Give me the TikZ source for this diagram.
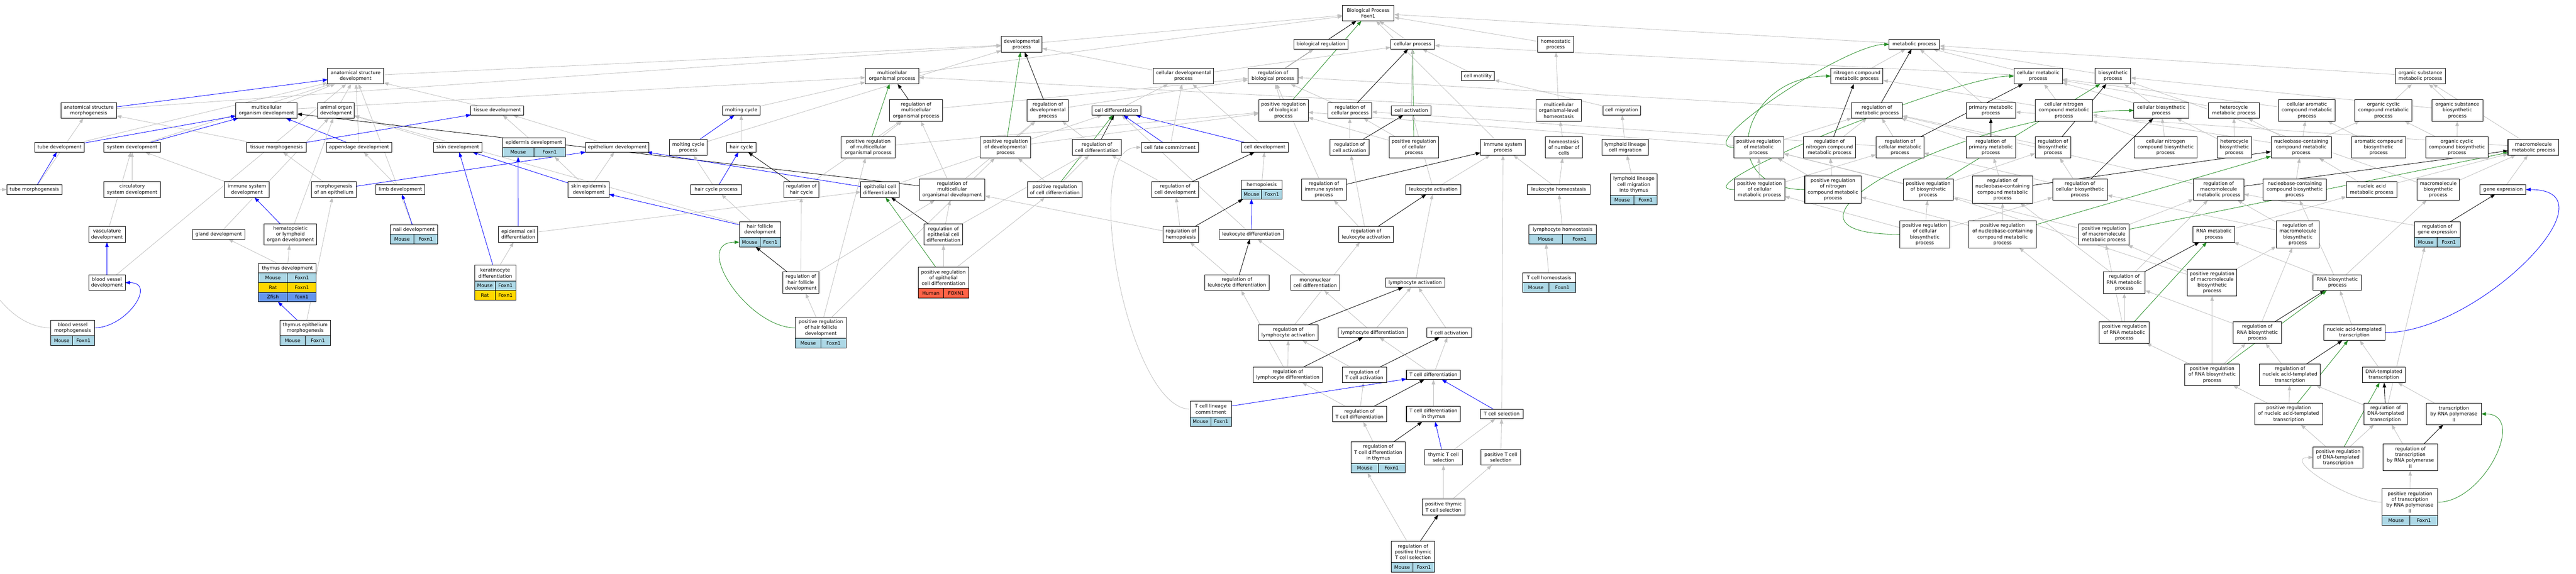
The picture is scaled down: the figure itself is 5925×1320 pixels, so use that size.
\documentclass[tikz,border=0pt]{standalone}
\usepackage{fontspec}
\setmainfont{DejaVu Sans}
\usepackage{tikz}
\usetikzlibrary{positioning, arrows.meta}
\definecolor{edgegray}{RGB}{192,192,192}
\definecolor{mousecol}{RGB}{173,216,230}
\definecolor{ratcol}{RGB}{255,215,0}
\definecolor{fishcol}{RGB}{100,149,237}
\definecolor{humancol}{RGB}{255,99,71}
\definecolor{posgreen}{RGB}{34,139,34}
\pgfdeclarelayer{bg}
\pgfsetlayers{bg,main}
\begin{document}
\begin{tikzpicture}[x=1pt, y=-1pt,
  term/.style={draw, line width=1.2pt, fill=white, inner sep=0pt, outer sep=0pt, align=center, font=\fontsize{11}{13.3}\selectfont},
  l1/.style={minimum height=22}, l2/.style={minimum height=36}, l3/.style={minimum height=49}, l4/.style={minimum height=62},
  cell/.style={draw, line width=1.2pt, inner sep=0pt, outer sep=0pt, minimum height=22, font=\fontsize{11}{13.3}\selectfont},
  mouse/.style={cell, fill=mousecol}, rat/.style={cell, fill=ratcol}, fish/.style={cell, fill=fishcol}, human/.style={cell, fill=humancol},
  isa/.style={draw=edgegray, line width=1pt, -{Triangle[length=11pt, width=8pt]}},
  partof/.style={isa, draw=blue},
  reg/.style={isa, draw=black},
  posreg/.style={isa, draw=posgreen}]
\useasboundingbox (0,0) rectangle (5925,1320);
\node[term, l2, minimum width=119] (bp) at (3147,30) {Biological Process\\Foxn1};
\node[term, l2, minimum width=94] (devproc) at (2350,102) {developmental\\process};
\node[term, l1, minimum width=124] (bioreg) at (3038,102) {biological regulation};
\node[term, l1, minimum width=101] (cellproc) at (3249,102) {cellular process};
\node[term, l2, minimum width=82] (homeo) at (3578,102) {homeostatic\\process};
\node[term, l1, minimum width=116] (metab) at (4403,102) {metabolic process};
\node[term, l2, minimum width=129] (asdev) at (818,175) {anatomical structure\\development};
\node[term, l2, minimum width=123] (mcop) at (2052,175) {multicellular\\organismal process};
\node[term, l2, minimum width=139] (celldevproc) at (2722,175) {cellular developmental\\process};
\node[term, l2, minimum width=115] (regbp) at (2928,175) {regulation of\\biological process};
\node[term, l1, minimum width=76] (cellmot) at (3399,175) {cell motility};
\node[term, l2, minimum width=120] (nitro) at (4271,175) {nitrogen compound\\metabolic process};
\node[term, l2, minimum width=111] (cellmet) at (4688,175) {cellular metabolic\\process};
\node[term, l2, minimum width=82] (biosyn) at (4860,175) {biosynthetic\\process};
\node[term, l2, minimum width=116] (orgsub) at (5567,175) {organic substance\\metabolic process};
\node[term, l2, minimum width=128] (asmorph) at (204,254) {anatomical structure\\morphogenesis};
\node[term, l2, minimum width=141] (mcod) at (613,254) {multicellular\\organism development};
\node[term, l2, minimum width=84] (aod) at (773,254) {animal organ\\development};
\node[term, l1, minimum width=122] (tisdev) at (1144,254) {tissue development};
\node[term, l1, minimum width=86] (molt) at (1705,254) {molting cycle};
\node[term, l3, minimum width=123] (regmcop) at (2107,254) {regulation of\\multicellular\\organismal process};
\node[term, l3, minimum width=95] (regdev) at (2410,254) {regulation of\\developmental\\process};
\node[term, l1, minimum width=112] (celldiff) at (2568,254) {cell differentiation};
\node[term, l3, minimum width=114] (posregbp) at (2952,254) {positive regulation\\of biological\\process};
\node[term, l2, minimum width=101] (regcp) at (3105,254) {regulation of\\cellular process};
\node[term, l1, minimum width=91] (cellact) at (3246,254) {cell activation};
\node[term, l3, minimum width=104] (mcoh) at (3585,254) {multicellular\\organismal-level\\homeostasis};
\node[term, l1, minimum width=87] (cellmig) at (3730,254) {cell migration};
\node[term, l2, minimum width=117] (regmet) at (4317,254) {regulation of\\metabolic process};
\node[term, l2, minimum width=114] (primet) at (4579,254) {primary metabolic\\process};
\node[term, l3, minimum width=131] (cnitro) at (4747,254) {cellular nitrogen\\compound metabolic\\process};
\node[term, l2, minimum width=126] (cellbio) at (4971,254) {cellular biosynthetic\\process};
\node[term, l2, minimum width=117] (hetmet) at (5138,254) {heterocycle\\metabolic process};
\node[term, l3, minimum width=131] (carom) at (5306,254) {cellular aromatic\\compound metabolic\\process};
\node[term, l3, minimum width=131] (orgcyc) at (5482,254) {organic cyclic\\compound metabolic\\process};
\node[term, l3, minimum width=117] (orgsubbio) at (5652,254) {organic substance\\biosynthetic\\process};
\node[term, l1, minimum width=113] (tubedev) at (137,339) {tube development};
\node[term, l1, minimum width=130] (sysdev) at (304,339) {system development};
\node[term, l1, minimum width=137] (tismorph) at (636,339) {tissue morphogenesis};
\node[term, l1, minimum width=151] (appdev) at (826,339) {appendage development};
\node[term, l1, minimum width=112] (skindev) at (1053,339) {skin development};
\node[term, l1, minimum width=145] (epiddev) at (1228,328) {epidermis development};
\node[mouse, minimum width=72.5, below right=0pt and 0pt of epiddev.south west] (epiddev-a) {Mouse};
\node[mouse, minimum width=72.5, right=0pt of epiddev-a] (epiddev-b) {Foxn1};
\node[term, l1, minimum width=146] (epithdev) at (1420,339) {epithelium development};
\node[term, l2, minimum width=87] (moltproc) at (1583,339) {molting cycle\\process};
\node[term, l1, minimum width=67] (hair) at (1705,339) {hair cycle};
\node[term, l3, minimum width=124] (posregmcop) at (1997,339) {positive regulation\\of multicellular\\organismal process};
\node[term, l3, minimum width=116] (posregdev) at (2313,339) {positive regulation\\of developmental\\process};
\node[term, l2, minimum width=112] (regcelldiff) at (2523,339) {regulation of\\cell differentiation};
\node[term, l1, minimum width=132] (cellfate) at (2691,339) {cell fate commitment};
\node[term, l1, minimum width=108] (celldev) at (2909,339) {cell development};
\node[term, l2, minimum width=90] (regca) at (3104,339) {regulation of\\cell activation};
\node[term, l3, minimum width=114] (posregcp) at (3252,339) {positive regulation\\of cellular\\process};
\node[term, l2, minimum width=103] (isp) at (3457,339) {immune system\\process};
\node[term, l3, minimum width=85] (homnum) at (3597,339) {homeostasis\\of number of\\cells};
\node[term, l2, minimum width=107] (llcm) at (3738,339) {lymphoid lineage\\cell migration};
\node[term, l3, minimum width=115] (posregmet) at (4045,339) {positive regulation\\of metabolic\\process};
\node[term, l3, minimum width=120] (regnitro) at (4208,339) {regulation of\\nitrogen compound\\metabolic process};
\node[term, l3, minimum width=110] (regcellmet) at (4370,339) {regulation of\\cellular metabolic\\process};
\node[term, l3, minimum width=114] (regprim) at (4579,339) {regulation of\\primary metabolic\\process};
\node[term, l3, minimum width=82] (regbio) at (4722,339) {regulation of\\biosynthetic\\process};
\node[term, l3, minimum width=144] (cnitrobio) at (4981,339) {cellular nitrogen\\compound biosynthetic\\process};
\node[term, l3, minimum width=80] (hetbio) at (5139,339) {heterocycle\\biosynthetic\\process};
\node[term, l3, minimum width=139] (nucmet) at (5293,339) {nucleobase-containing\\compound metabolic\\process};
\node[term, l3, minimum width=124] (arombio) at (5471,339) {aromatic compound\\biosynthetic\\process};
\node[term, l3, minimum width=144] (orgcycbio) at (5651,339) {organic cyclic\\compound biosynthetic\\process};
\node[term, l2, minimum width=117] (macmet) at (5827,339) {macromolecule\\metabolic process};
\node[term, l1, minimum width=127] (tubemorph) at (79,436) {tube morphogenesis};
\node[term, l2, minimum width=130] (circ) at (304,436) {circulatory\\system development};
\node[term, l2, minimum width=103] (isdev) at (568,436) {immune system\\development};
\node[term, l2, minimum width=103] (morphepi) at (768,436) {morphogenesis\\of an epithelium};
\node[term, l1, minimum width=112] (limb) at (921,436) {limb development};
\node[term, l2, minimum width=94] (skinepi) at (1354,436) {skin epidermis\\development};
\node[term, l1, minimum width=117] (hcp) at (1647,436) {hair cycle process};
\node[term, l2, minimum width=81] (reghc) at (1843,436) {regulation of\\hair cycle};
\node[term, l2, minimum width=88] (epicd) at (2024,436) {epithelial cell\\differentiation};
\node[term, l3, minimum width=151] (regmcod) at (2190,436) {regulation of\\multicellular\\organismal development};
\node[term, l2, minimum width=126] (posregcd) at (2426,436) {positive regulation\\of cell differentiation};
\node[term, l2, minimum width=108] (regcd2) at (2703,436) {regulation of\\cell development};
\node[term, l1, minimum width=94] (hemo) at (2902,425) {hemopoiesis};
\node[mouse, minimum width=47, below right=0pt and 0pt of hemo.south west] (hemo-a) {Mouse};
\node[mouse, minimum width=47, right=0pt of hemo-a] (hemo-b) {Foxn1};
\node[term, l3, minimum width=103] (regisp) at (3045,436) {regulation of\\immune system\\process};
\node[term, l1, minimum width=127] (leuact) at (3297,436) {leukocyte activation};
\node[term, l1, minimum width=144] (leuhom) at (3585,436) {leukocyte homeostasis};
\node[term, l3, minimum width=108] (llcmt) at (3758,425) {lymphoid lineage\\cell migration\\into thymus};
\node[mouse, minimum width=54, below right=0pt and 0pt of llcmt.south west] (llcmt-a) {Mouse};
\node[mouse, minimum width=54, right=0pt of llcmt-a] (llcmt-b) {Foxn1};
\node[term, l3, minimum width=116] (posregcm) at (4047,436) {positive regulation\\of cellular\\metabolic process};
\node[term, l4, minimum width=130] (posregnitro) at (4216,436) {positive regulation\\of nitrogen\\compound metabolic\\process};
\node[term, l3, minimum width=115] (posregbio) at (4435,436) {positive regulation\\of biosynthetic\\process};
\node[term, l4, minimum width=139] (regnuc) at (4606,436) {regulation of\\nucleobase-containing\\compound metabolic\\process};
\node[term, l3, minimum width=126] (regcb) at (4784,436) {regulation of\\cellular biosynthetic\\process};
\node[term, l3, minimum width=116] (regmac) at (5103,436) {regulation of\\macromolecule\\metabolic process};
\node[term, l3, minimum width=145] (nucbio) at (5278,436) {nucleobase-containing\\compound biosynthetic\\process};
\node[term, l2, minimum width=116] (nucacid) at (5455,436) {nucleic acid\\metabolic process};
\node[term, l3, minimum width=98] (macbio) at (5608,436) {macromolecule\\biosynthetic\\process};
\node[term, l1, minimum width=105] (geneexp) at (5757,436) {gene expression};
\node[term, l2, minimum width=84] (vasc) at (246,539) {vasculature\\development};
\node[term, l1, minimum width=120] (gland) at (503,539) {gland development};
\node[term, l3, minimum width=121] (hemorgan) at (668,539) {hematopoietic\\or lymphoid\\organ development};
\node[term, l1, minimum width=109] (naildev) at (952,528) {nail development};
\node[mouse, minimum width=54.5, below right=0pt and 0pt of naildev.south west] (naildev-a) {Mouse};
\node[mouse, minimum width=54.5, right=0pt of naildev-a] (naildev-b) {Foxn1};
\node[term, l2, minimum width=90] (epidcd) at (1192,539) {epidermal cell\\differentiation};
\node[term, l2, minimum width=95] (hfd) at (1748,528) {hair follicle\\development};
\node[mouse, minimum width=47.5, below right=0pt and 0pt of hfd.south west] (hfd-a) {Mouse};
\node[mouse, minimum width=47.5, right=0pt of hfd-a] (hfd-b) {Foxn1};
\node[term, l3, minimum width=89] (regepicd) at (2170,539) {regulation of\\epithelial cell\\differentiation};
\node[term, l2, minimum width=82] (reghemo) at (2716,539) {regulation of\\hemopoiesis};
\node[term, l1, minimum width=148] (leudiff) at (2878,539) {leukocyte differentiation};
\node[term, l2, minimum width=126] (regla) at (3142,539) {regulation of\\leukocyte activation};
\node[term, l1, minimum width=156] (lymhom) at (3594,528) {lymphocyte homeostasis};
\node[mouse, minimum width=78, below right=0pt and 0pt of lymhom.south west] (lymhom-a) {Mouse};
\node[mouse, minimum width=78, right=0pt of lymhom-a] (lymhom-b) {Foxn1};
\node[term, l4, minimum width=115] (posregcbio) at (4427,539) {positive regulation\\of cellular\\biosynthetic\\process};
\node[term, l4, minimum width=155] (posregnuc) at (4606,539) {positive regulation\\of nucleobase-containing\\compound metabolic\\process};
\node[term, l3, minimum width=116] (posregmac) at (4839,539) {positive regulation\\of macromolecule\\metabolic process};
\node[term, l2, minimum width=96] (rnamet) at (5092,539) {RNA metabolic\\process};
\node[term, l4, minimum width=99] (regmacbio) at (5285,539) {regulation of\\macromolecule\\biosynthetic\\process};
\node[term, l2, minimum width=106] (reggene) at (5606,528) {regulation of\\gene expression};
\node[mouse, minimum width=53, below right=0pt and 0pt of reggene.south west] (reggene-a) {Mouse};
\node[mouse, minimum width=53, right=0pt of reggene-a] (reggene-b) {Foxn1};
\node[term, l2, minimum width=84] (bvdev) at (246,650) {blood vessel\\development};
\node[term, l1, minimum width=133] (thydev) at (661,617) {thymus development};
\node[mouse, minimum width=66.5, below right=0pt and 0pt of thydev.south west] (thydev-a) {Mouse};
\node[mouse, minimum width=66.5, right=0pt of thydev-a] (thydev-b) {Foxn1};
\node[rat, minimum width=66.5, below=0pt of thydev-a] (thydev-c) {Rat};
\node[rat, minimum width=66.5, right=0pt of thydev-c] (thydev-d) {Foxn1};
\node[fish, minimum width=66.5, below=0pt of thydev-c] (thydev-e) {Zfish};
\node[fish, minimum width=66.5, right=0pt of thydev-e] (thydev-f) {foxn1};
\node[term, l2, minimum width=95] (kerat) at (1139,628) {keratinocyte\\differentiation};
\node[mouse, minimum width=47.5, below right=0pt and 0pt of kerat.south west] (kerat-a) {Mouse};
\node[mouse, minimum width=47.5, right=0pt of kerat-a] (kerat-b) {Foxn1};
\node[rat, minimum width=47.5, below=0pt of kerat-a] (kerat-c) {Rat};
\node[rat, minimum width=47.5, right=0pt of kerat-c] (kerat-d) {Foxn1};
\node[term, l3, minimum width=84] (reghfd) at (1842,650) {regulation of\\hair follicle\\development};
\node[term, l3, minimum width=116] (posregepi) at (2170,639) {positive regulation\\of epithelial\\cell differentiation};
\node[human, minimum width=58, below right=0pt and 0pt of posregepi.south west] (posregepi-a) {Human};
\node[human, minimum width=58, right=0pt of posregepi-a] (posregepi-b) {FOXN1};
\node[term, l2, minimum width=149] (regleudiff) at (2845,650) {regulation of\\leukocyte differentiation};
\node[term, l2, minimum width=112] (mono) at (3025,650) {mononuclear\\cell differentiation};
\node[term, l1, minimum width=137] (lymact) at (3255,650) {lymphocyte activation};
\node[term, l1, minimum width=122] (tcellhom) at (3563,639) {T cell homeostasis};
\node[mouse, minimum width=61, below right=0pt and 0pt of tcellhom.south west] (tcellhom-a) {Mouse};
\node[mouse, minimum width=61, right=0pt of tcellhom-a] (tcellhom-b) {Foxn1};
\node[term, l3, minimum width=96] (regrna) at (4886,650) {regulation of\\RNA metabolic\\process};
\node[term, l4, minimum width=114] (posregmacbio) at (5088,650) {positive regulation\\of macromolecule\\biosynthetic\\process};
\node[term, l2, minimum width=111] (rnabio) at (5376,650) {RNA biosynthetic\\process};
\node[term, l2, minimum width=100] (bvmorph) at (167,754) {blood vessel\\morphogenesis};
\node[mouse, minimum width=50, below right=0pt and 0pt of bvmorph.south west] (bvmorph-a) {Mouse};
\node[mouse, minimum width=50, right=0pt of bvmorph-a] (bvmorph-b) {Foxn1};
\node[term, l2, minimum width=116] (thyepi) at (702,754) {thymus epithelium\\morphogenesis};
\node[mouse, minimum width=58, below right=0pt and 0pt of thyepi.south west] (thyepi-a) {Mouse};
\node[mouse, minimum width=58, right=0pt of thyepi-a] (thyepi-b) {Foxn1};
\node[term, l3, minimum width=117] (posreghfd) at (1888,754) {positive regulation\\of hair follicle\\development};
\node[mouse, minimum width=58.5, below right=0pt and 0pt of posreghfd.south west] (posreghfd-a) {Mouse};
\node[mouse, minimum width=58.5, right=0pt of posreghfd-a] (posreghfd-b) {Foxn1};
\node[term, l2, minimum width=137] (regla2) at (2963,765) {regulation of\\lymphocyte activation};
\node[term, l1, minimum width=159] (lymdiff) at (3157,765) {lymphocyte differentiation};
\node[term, l1, minimum width=103] (tact) at (3333,765) {T cell activation};
\node[term, l3, minimum width=115] (posregrna) at (4886,765) {positive regulation\\of RNA metabolic\\process};
\node[term, l3, minimum width=111] (regrnabio) at (5192,765) {regulation of\\RNA biosynthetic\\process};
\node[term, l2, minimum width=141] (nact) at (5415,765) {nucleic acid-templated\\transcription};
\node[term, l2, minimum width=158] (regld) at (2962,862) {regulation of\\lymphocyte differentiation};
\node[term, l2, minimum width=102] (regtact) at (3138,862) {regulation of\\T cell activation};
\node[term, l1, minimum width=124] (tdiff) at (3297,862) {T cell differentiation};
\node[term, l3, minimum width=126] (posregrnabio) at (5088,862) {positive regulation\\of RNA biosynthetic\\process};
\node[term, l3, minimum width=140] (regnact) at (5267,862) {regulation of\\nucleic acid-templated\\transcription};
\node[term, l2, minimum width=99] (dnat) at (5483,862) {DNA-templated\\transcription};
\node[term, l2, minimum width=95] (tlin) at (2785,941) {T cell lineage\\commitment};
\node[mouse, minimum width=47.5, below right=0pt and 0pt of tlin.south west] (tlin-a) {Mouse};
\node[mouse, minimum width=47.5, right=0pt of tlin-a] (tlin-b) {Foxn1};
\node[term, l2, minimum width=124] (regtdiff) at (3127,952) {regulation of\\T cell differentiation};
\node[term, l2, minimum width=124] (tdiffthy) at (3297,952) {T cell differentiation\\in thymus};
\node[term, l1, minimum width=99] (tsel) at (3454,952) {T cell selection};
\node[term, l3, minimum width=156] (posregnact) at (5264,952) {positive regulation\\of nucleic acid-templated\\transcription};
\node[term, l3, minimum width=99] (regdnat) at (5487,952) {regulation of\\DNA-templated\\transcription};
\node[term, l3, minimum width=126] (trpol) at (5644,952) {transcription\\by RNA polymerase\\II};
\node[term, l3, minimum width=124] (regtdt) at (3170,1041) {regulation of\\T cell differentiation\\in thymus};
\node[mouse, minimum width=62, below right=0pt and 0pt of regtdt.south west] (regtdt-a) {Mouse};
\node[mouse, minimum width=62, right=0pt of regtdt-a] (regtdt-b) {Foxn1};
\node[term, l2, minimum width=86] (thysel) at (3320,1052) {thymic T cell\\selection};
\node[term, l2, minimum width=91] (postsel) at (3452,1052) {positive T cell\\selection};
\node[term, l3, minimum width=115] (posregdnat) at (5378,1052) {positive regulation\\of DNA-templated\\transcription};
\node[term, l4, minimum width=126] (regtrpol) at (5544,1052) {regulation of\\transcription\\by RNA polymerase\\II};
\node[term, l2, minimum width=98] (posthysel) at (3320,1166) {positive thymic\\T cell selection};
\node[term, l4, minimum width=128] (posregtrpol) at (5543,1155) {positive regulation\\of transcription\\by RNA polymerase\\II};
\node[mouse, minimum width=64, below right=0pt and 0pt of posregtrpol.south west] (posregtrpol-a) {Mouse};
\node[mouse, minimum width=64, right=0pt of posregtrpol-a] (posregtrpol-b) {Foxn1};
\node[term, l3, minimum width=100] (regposthy) at (3250,1269) {regulation of\\positive thymic\\T cell selection};
\node[mouse, minimum width=50, below right=0pt and 0pt of regposthy.south west] (regposthy-a) {Mouse};
\node[mouse, minimum width=50, right=0pt of regposthy-a] (regposthy-b) {Foxn1};
\begin{pgfonlayer}{bg}
\draw[isa] (devproc) -- (bp);
\draw[isa] (bioreg) -- (bp);
\draw[isa] (cellproc) -- (bp);
\draw[isa] (homeo) -- (bp);
\draw[isa] (metab) -- (bp);
\draw[isa] (mcop) -- (bp);
\draw[isa] (isp) -- (bp);
\draw[reg] (regbp) -- (bp);
\draw[posreg] (posregbp) -- (bp);
\draw[isa] (asdev) -- (devproc);
\draw[isa] (asmorph) -- (devproc);
\draw[isa] (celldevproc) -- (devproc);
\draw[isa] (moltproc) -- (devproc);
\draw[isa] (regbp) -- (bioreg);
\draw[isa] (celldevproc) -- (cellproc);
\draw[isa] (cellmot) -- (cellproc);
\draw[isa] (cellmet) -- (cellproc);
\draw[isa] (cellmet) -- (metab);
\draw[isa] (mcod) -- (asdev);
\draw[isa] (mcod) -- (mcop);
\draw[isa] (aod) -- (asdev);
\draw[isa] (sysdev) -- (asdev);
\draw[isa] (tubedev) -- (asdev);
\draw[isa] (tisdev) -- (asdev);
\draw[isa] (appdev) -- (asdev);
\draw[isa] (bvdev) -- (asdev);
\draw[isa] (naildev) -- (asdev);
\draw[partof] (asmorph) -- (asdev);
\draw[isa] (celldiff) -- (celldevproc);
\draw[isa] (cellfate) -- (celldevproc);
\draw[isa] (celldev) -- (celldevproc);
\draw[isa] (regmcop) -- (regbp);
\draw[isa] (regdev) -- (regbp);
\draw[isa] (regcp) -- (regbp);
\draw[isa] (regmet) -- (regbp);
\draw[isa] (regisp) -- (regbp);
\draw[isa] (posregbp) -- (regbp);
\draw[isa] (nitro) -- (metab);
\draw[isa] (primet) -- (metab);
\draw[isa] (biosyn) -- (metab);
\draw[isa] (orgsub) -- (metab);
\draw[reg] (regmet) -- (metab);
\draw[posreg] (posregmet.west) to[out=180, in=180, looseness=0.6] (metab.west);
\draw[isa] (cellmig) -- (cellmot);
\draw[isa] (mcoh) -- (homeo);
\draw[isa] (mcoh) -- (mcop);
\draw[partof] (tubedev) -- (mcod);
\draw[partof] (sysdev) -- (mcod);
\draw[partof] (appdev) -- (mcod);
\draw[isa] (tismorph) -- (asmorph);
\draw[isa] (tubemorph) -- (asmorph);
\draw[partof] (tismorph) -- (tisdev);
\draw[isa] (epithdev) -- (tisdev);
\draw[isa] (epiddev) -- (tisdev);
\draw[isa] (skindev) -- (aod);
\draw[isa] (gland) -- (aod);
\draw[isa] (hemorgan) -- (aod);
\draw[isa] (hfd) -- (aod);
\draw[reg] (regmcod) -- (mcod);
\draw[reg] (regmcop) -- (mcop);
\draw[posreg] (posregmcop) -- (mcop);
\draw[isa] (hair) -- (molt);
\draw[partof] (moltproc) -- (molt);
\draw[isa] (molt) -- (mcop);
\draw[isa] (regmcod) -- (regmcop);
\draw[isa] (reghc) -- (regmcop);
\draw[isa] (posregmcop) -- (regmcop);
\draw[reg] (regdev) -- (devproc);
\draw[posreg] (posregdev) -- (devproc);
\draw[isa] (regmcod) -- (regdev);
\draw[isa] (posregdev) -- (regdev);
\draw[isa] (regcelldiff) -- (regdev);
\draw[isa] (epicd) -- (celldiff);
\draw[isa] (leudiff) -- (celldiff);
\draw[partof] (cellfate) -- (celldiff);
\draw[partof] (celldev) -- (celldiff);
\draw[reg] (regcelldiff) -- (celldiff);
\draw[posreg] (posregcd) -- (celldiff);
\draw[isa] (posregmcop) -- (posregbp);
\draw[isa] (posregdev) -- (posregbp);
\draw[isa] (posregcp) -- (posregbp);
\draw[isa] (posregmet) -- (posregbp);
\draw[isa] (regca) -- (regcp);
\draw[isa] (posregcp) -- (regcp);
\draw[isa] (regcellmet) -- (regcp);
\draw[reg] (regcp) -- (cellproc);
\draw[posreg] (posregcp) -- (cellproc);
\draw[isa] (cellact) -- (cellproc);
\draw[isa] (leuact) -- (cellact);
\draw[reg] (regca) -- (cellact);
\draw[isa] (homnum) -- (mcoh);
\draw[isa] (llcm) -- (cellmig);
\draw[isa] (regnitro) -- (regmet);
\draw[isa] (regcellmet) -- (regmet);
\draw[isa] (posregmet) -- (regmet);
\draw[isa] (regprim) -- (regmet);
\draw[isa] (regbio) -- (regmet);
\draw[isa] (regmac) -- (regmet);
\draw[reg] (regnitro) -- (nitro);
\draw[posreg] (posregnitro.west) to[out=180, in=180, looseness=2] (nitro.west);
\draw[isa] (cnitro) -- (nitro);
\draw[isa] (cnitro) -- (cellmet);
\draw[isa] (cellbio) -- (cellmet);
\draw[isa] (hetmet) -- (cellmet);
\draw[isa] (carom) -- (cellmet);
\draw[reg] (regcellmet) -- (cellmet);
\draw[posreg] (posregcm.west) to[out=180, in=180, looseness=0.5] (cellmet.west);
\draw[reg] (regprim) -- (primet);
\draw[isa] (macmet) -- (primet);
\draw[isa] (cellbio) -- (biosyn);
\draw[isa] (orgsubbio) -- (biosyn);
\draw[isa] (macbio) -- (biosyn);
\draw[reg] (regbio) -- (biosyn);
\draw[posreg] (posregbio) -- (biosyn);
\draw[isa] (orgcyc) -- (orgsub);
\draw[isa] (orgsubbio) -- (orgsub);
\draw[isa] (macmet) -- (orgsub);
\draw[partof] (tubemorph) -- (tubedev);
\draw[isa] (circ) -- (sysdev);
\draw[isa] (vasc) -- (sysdev);
\draw[isa] (isdev) -- (sysdev);
\draw[isa] (morphepi) -- (tismorph);
\draw[isa] (limb) -- (appdev);
\draw[partof] (skinepi) -- (skindev);
\draw[partof] (kerat) -- (skindev);
\draw[partof] (epidcd) -- (epiddev-a);
\draw[isa] (skinepi) -- (epiddev-b);
\draw[partof] (morphepi) -- (epithdev);
\draw[partof] (epicd) -- (epithdev);
\draw[isa] (skinepi) -- (epithdev);
\draw[partof] (hcp) -- (hair);
\draw[isa] (hcp) -- (moltproc);
\draw[reg] (reghc) -- (hair);
\draw[isa] (reghfd) -- (reghc);
\draw[isa] (posreghfd) -- (posregmcop);
\draw[isa] (posregcd) -- (posregdev);
\draw[isa] (posreghfd) -- (posregdev);
\draw[isa] (regepicd) -- (regcelldiff);
\draw[isa] (posregcd) -- (regcelldiff);
\draw[isa] (regcd2) -- (regcelldiff);
\draw[reg] (regcd2) -- (celldev);
\draw[isa] (hemo) -- (celldev);
\draw[isa] (regla) -- (regca);
\draw[isa] (leuact) -- (isp);
\draw[isa] (tsel) -- (isp);
\draw[isa] (leuhom) -- (isp);
\draw[reg] (regisp) -- (isp);
\draw[isa] (leuhom) -- (homnum);
\draw[isa] (llcmt) -- (llcm);
\draw[isa] (posregcm) -- (posregmet);
\draw[isa] (posregnitro) -- (posregmet);
\draw[isa] (posregbio) -- (posregmet);
\draw[isa] (posregmac) -- (posregmet);
\draw[isa] (posregnitro) -- (regnitro);
\draw[isa] (posregcm) -- (regcellmet);
\draw[isa] (regcb) -- (regcellmet);
\draw[isa] (regnuc) -- (regprim);
\draw[isa] (posregbio) -- (regbio);
\draw[isa] (regcb) -- (regbio);
\draw[isa] (cnitrobio) -- (cnitro);
\draw[isa] (cnitrobio) -- (cellbio);
\draw[isa] (hetbio) -- (hetmet);
\draw[isa] (hetbio) -- (cellbio);
\draw[isa] (nucmet) -- (hetmet);
\draw[isa] (nucmet) -- (carom);
\draw[isa] (nucmet) -- (cnitro);
\draw[isa] (nucmet) -- (orgcyc);
\draw[isa] (arombio) -- (carom);
\draw[isa] (orgcycbio) -- (orgcyc);
\draw[isa] (orgcycbio) -- (orgsubbio);
\draw[reg] (regcb) -- (cellbio);
\draw[posreg] (posregcbio.west) to[out=180, in=180, looseness=1.6] (cellbio.west);
\draw[reg] (regnuc) -- (nucmet);
\draw[posreg] (posregnuc) -- (nucmet);
\draw[isa] (nucacid) -- (nucmet);
\draw[isa] (nucbio) -- (nucmet);
\draw[reg] (regmac) -- (macmet);
\draw[posreg] (posregmac) -- (macmet);
\draw[isa] (nucacid) -- (macmet);
\draw[isa] (macbio) -- (macmet);
\draw[isa] (geneexp) -- (macmet);
\draw[partof] (hemorgan) -- (isdev);
\draw[isa] (thyepi) -- (morphepi);
\draw[partof] (naildev) -- (limb);
\draw[partof] (hfd) -- (skinepi);
\draw[isa] (hfd) -- (hcp);
\draw[isa] (epidcd) -- (epicd);
\draw[reg] (regepicd) -- (epicd);
\draw[posreg] (posregepi) -- (epicd);
\draw[isa] (regepicd) -- (regmcod);
\draw[isa] (reghfd) -- (regmcod);
\draw[isa] (reghemo) -- (regmcod);
\draw[isa] (posregepi) -- (posregcd);
\draw[isa] (reghemo) -- (regcd2);
\draw[partof] (leudiff) -- (hemo-a);
\draw[reg] (reghemo) -- (hemo-a);
\draw[isa] (regla) -- (regisp);
\draw[isa] (lymact) -- (leuact);
\draw[reg] (regla) -- (leuact);
\draw[isa] (lymhom) -- (leuhom);
\draw[isa] (posregcbio) -- (posregcm);
\draw[isa] (posregnuc) -- (posregnitro);
\draw[isa] (posregcbio) -- (posregbio);
\draw[isa] (posregmacbio) -- (posregbio);
\draw[isa] (posregnuc) -- (regnuc);
\draw[isa] (regrna) -- (regnuc);
\draw[isa] (posregcbio) -- (regcb);
\draw[isa] (regmacbio) -- (regcb);
\draw[isa] (regrna) -- (regmac);
\draw[isa] (reggene) -- (regmac);
\draw[isa] (regmacbio) -- (regmac);
\draw[isa] (posregmac) -- (regmac);
\draw[isa] (rnabio) -- (nucbio);
\draw[isa] (rnamet) -- (nucacid);
\draw[isa] (rnabio) -- (macbio);
\draw[reg] (reggene) -- (geneexp);
\draw[partof] (nact.east) to[out=0, in=0, looseness=1.2] (geneexp.east);
\draw[partof] (bvdev) -- (vasc);
\draw[isa] (thydev) -- (gland);
\draw[isa] (thydev) -- (hemorgan);
\draw[isa] (kerat) -- (epidcd);
\draw[reg] (reghfd) -- (hfd-a);
\draw[posreg] (posreghfd.west) to[out=180, in=180, looseness=1.2] (hfd-a.west);
\draw[isa] (posregepi) -- (regepicd);
\draw[reg] (regleudiff) -- (leudiff);
\draw[isa] (mono) -- (leudiff);
\draw[isa] (regleudiff) -- (reghemo);
\draw[isa] (regla2) -- (regla);
\draw[isa] (tcellhom) -- (lymhom-a);
\draw[isa] (posregrna) -- (posregnuc);
\draw[isa] (posregrna) -- (posregmac);
\draw[isa] (posregmacbio) -- (posregmac);
\draw[reg] (regrna) -- (rnamet);
\draw[posreg] (posregrna) -- (rnamet);
\draw[isa] (rnabio) -- (rnamet);
\draw[isa] (regrnabio) -- (regmacbio);
\draw[isa] (posregmacbio) -- (regmacbio);
\draw[isa] (regdnat) -- (reggene-a);
\draw[partof] (bvmorph.east) to[out=0, in=0, looseness=1.5] (bvdev.east);
\draw[partof] (thyepi) -- (thydev-e);
\draw[isa] (posreghfd) -- (reghfd);
\draw[isa] (regld) -- (regleudiff);
\draw[isa] (lymdiff) -- (mono);
\draw[isa] (lymdiff) -- (lymact);
\draw[isa] (tact) -- (lymact);
\draw[reg] (regla2) -- (lymact);
\draw[isa] (posregrna) -- (regrna);
\draw[isa] (regrnabio) -- (regrna);
\draw[isa] (posregrnabio) -- (posregmacbio);
\draw[reg] (regrnabio) -- (rnabio);
\draw[posreg] (posregrnabio) -- (rnabio);
\draw[isa] (nact) -- (rnabio);
\draw[isa] (bvmorph.west) to[out=180, in=180, looseness=1.2] (tubemorph.west);
\draw[isa] (regld) -- (regla2);
\draw[isa] (regtact) -- (regla2);
\draw[isa] (tdiff) -- (lymdiff);
\draw[reg] (regld) -- (lymdiff);
\draw[isa] (tdiff) -- (tact);
\draw[reg] (regtact) -- (tact);
\draw[isa] (posregrnabio) -- (posregrna);
\draw[isa] (posregrnabio) -- (regrnabio);
\draw[isa] (regnact) -- (regrnabio);
\draw[reg] (regnact) -- (nact);
\draw[posreg] (posregnact) -- (nact);
\draw[isa] (dnat) -- (nact);
\draw[isa] (regtdiff) -- (regld);
\draw[isa] (regtdiff) -- (regtact);
\draw[isa] (tdiffthy) -- (tdiff);
\draw[partof] (tlin) -- (tdiff);
\draw[partof] (tsel) -- (tdiff);
\draw[reg] (regtdiff) -- (tdiff);
\draw[isa] (posregnact) -- (posregrnabio);
\draw[isa] (posregnact) -- (regnact);
\draw[isa] (regdnat) -- (regnact);
\draw[reg] (regdnat) -- (dnat);
\draw[posreg] (posregdnat) -- (dnat);
\draw[isa] (trpol) -- (dnat);
\draw[isa] (tlin.west) to[out=180, in=180, looseness=0.6] (cellfate.west);
\draw[isa] (regtdt) -- (regtdiff);
\draw[reg] (regtdt) -- (tdiffthy);
\draw[partof] (thysel) -- (tdiffthy);
\draw[isa] (thysel) -- (tsel);
\draw[isa] (postsel) -- (tsel);
\draw[isa] (posregdnat) -- (posregnact);
\draw[isa] (posregdnat) -- (regdnat);
\draw[isa] (regtrpol) -- (regdnat);
\draw[reg] (regtrpol) -- (trpol);
\draw[posreg] (posregtrpol.east) to[out=0, in=0, looseness=1.2] (trpol.east);
\draw[isa] (regposthy) -- (regtdt-a);
\draw[isa] (posthysel) -- (thysel);
\draw[isa] (posthysel) -- (postsel);
\draw[isa] (posregtrpol.west) to[out=180, in=180, looseness=1] (posregdnat.west);
\draw[isa] (posregtrpol) -- (regtrpol);
\draw[reg] (regposthy) -- (posthysel);
\end{pgfonlayer}
\end{tikzpicture}
\end{document}
